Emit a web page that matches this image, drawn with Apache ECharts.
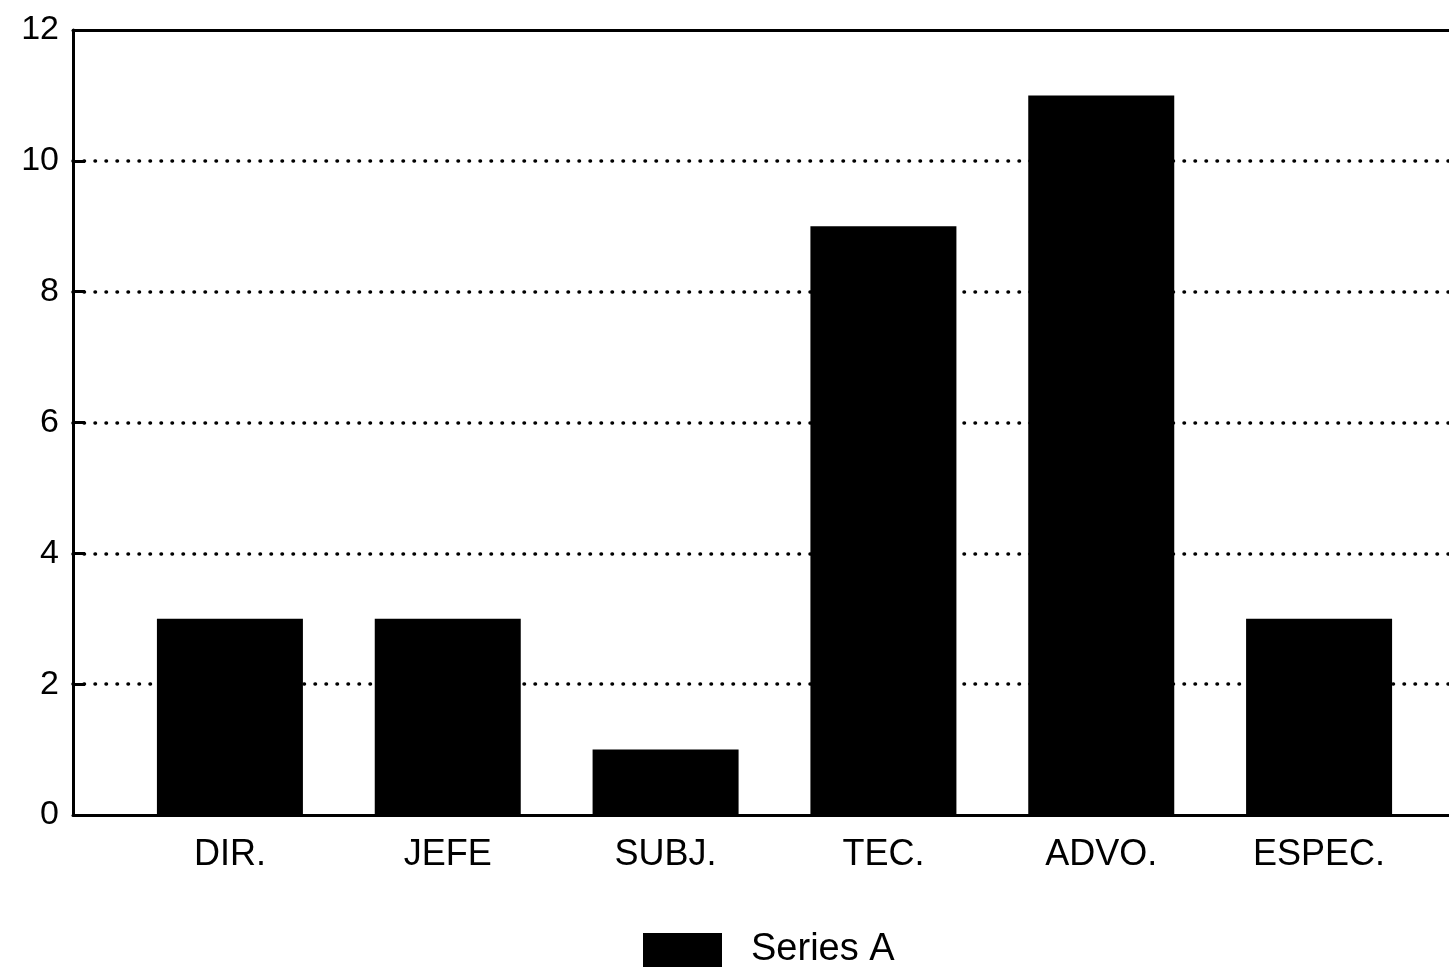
<!DOCTYPE html>
<html>
<head>
<meta charset="utf-8">
<script src="https://cdn.jsdelivr.net/npm/echarts@6/dist/echarts.min.js"></script>
<style>
html,body{margin:0;padding:0;background:#fff;overflow:hidden;}
#chart{width:1449px;height:973px;}
</style>
</head>
<body>
<div id="chart"></div>
<script>
const categories = ['DIR.', 'JEFE', 'SUBJ.', 'TEC.', 'ADVO.', 'ESPEC.'];
const seriesA = [3, 3, 1, 9, 11, 3];
const yTicks = [0, 2, 4, 6, 8, 10, 12];
const seriesName = 'Series A';

const font = 'Liberation Sans';
const frameLine = {show: true, lineStyle: {color: '#000', width: 3}};
const chart = echarts.init(document.getElementById('chart'), null, {renderer: 'canvas'});
chart.setOption({
  backgroundColor: '#fff',
  animation: false,
  legend: {
    data: [seriesName],
    left: 638, top: 926,
    itemWidth: 79, itemHeight: 34, itemGap: 10,
    icon: 'rect',
    textStyle: {fontFamily: font, fontSize: 38, color: '#000', padding: [0, 0, 0, 24]}
  },
  grid: [
    {left: 73, right: -30, top: 30, bottom: 158},
    {left: 121, right: 21, top: 30, bottom: 158}
  ],
  xAxis: [
    {gridIndex: 0, type: 'value', min: 0, max: 1, position: 'bottom',
     axisLine: frameLine, axisTick: {show: false}, axisLabel: {show: false}, splitLine: {show: false}},
    {gridIndex: 1, type: 'category', data: categories,
     axisLine: {show: false}, axisTick: {show: false},
     axisLabel: {fontFamily: font, fontSize: 36, color: '#000', margin: 22}},
    {gridIndex: 0, type: 'value', min: 0, max: 1, position: 'top',
     axisLine: frameLine, axisTick: {show: false}, axisLabel: {show: false}, splitLine: {show: false}}
  ],
  yAxis: [
    {gridIndex: 0, type: 'value', min: yTicks[0], max: yTicks[yTicks.length - 1], interval: 2,
     axisLine: frameLine,
     axisTick: {show: true, inside: true, length: 12, lineStyle: {color: '#000', width: 3}},
     axisLabel: {fontFamily: font, fontSize: 34, color: '#000', margin: 14},
     splitLine: {show: true, showMinLine: false, showMaxLine: false,
                 lineStyle: {color: '#000', width: 3.5, type: [0.5, 10.5], cap: 'round'}}},
    {gridIndex: 1, type: 'value', min: yTicks[0], max: yTicks[yTicks.length - 1], interval: 2, show: false}
  ],
  series: [
    {name: seriesName, type: 'bar', xAxisIndex: 1, yAxisIndex: 1, data: seriesA,
     barWidth: 146, itemStyle: {color: '#000'}}
  ]
});
</script>
</body>
</html>
